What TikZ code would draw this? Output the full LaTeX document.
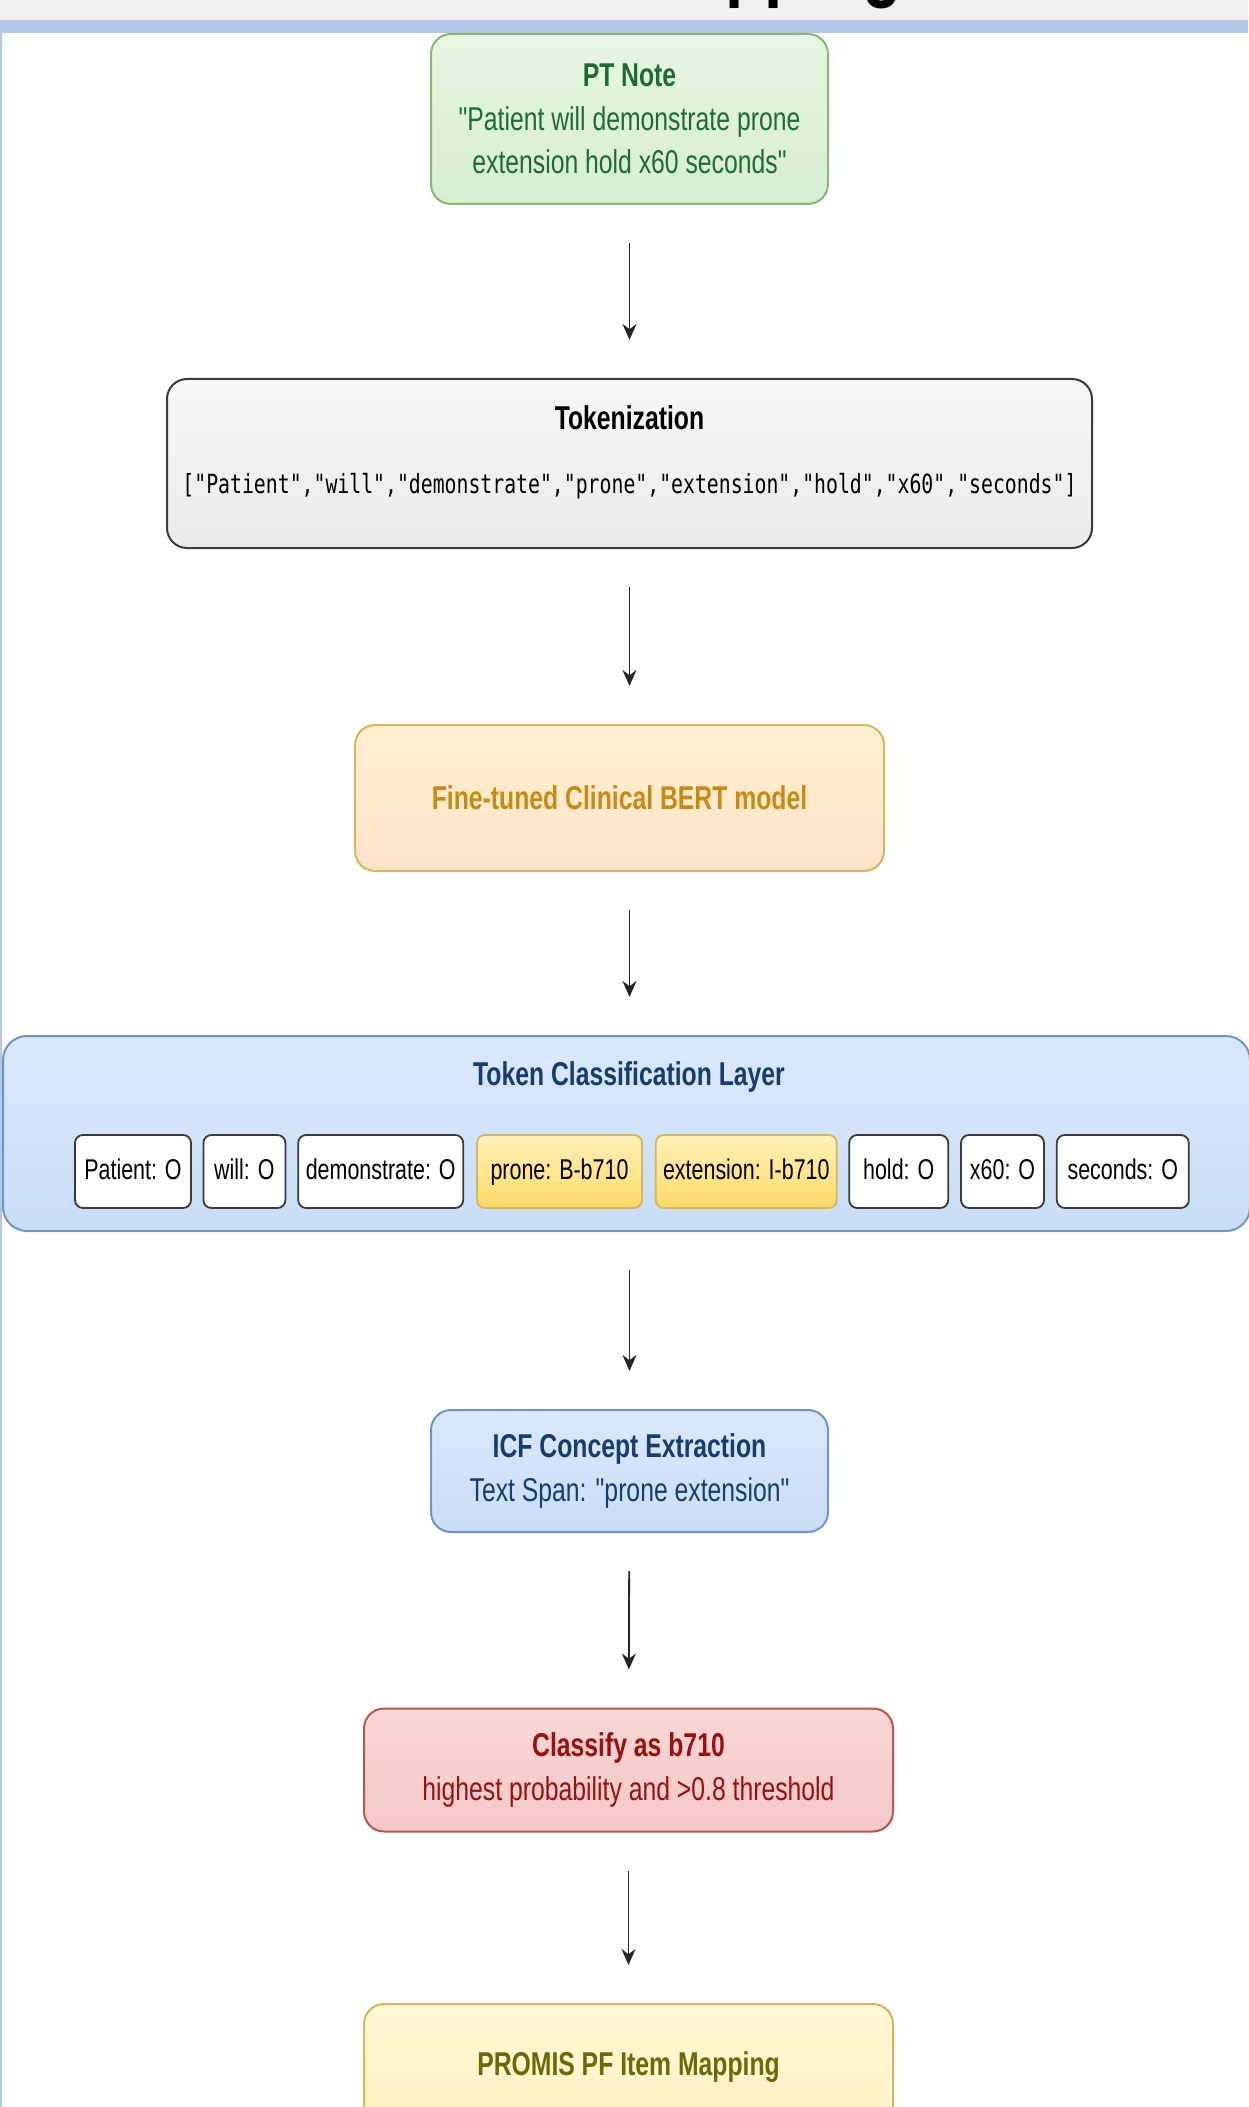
\documentclass[tikz,border=0pt]{standalone}
\usepackage{fontspec}
\setmainfont{Liberation Sans}[FakeStretch=0.75,Ligatures=TeXOff]
\setmonofont{DejaVu Sans Mono}[FakeStretch=0.75]
\usetikzlibrary{positioning,arrows.meta}

\definecolor{bandGray}{HTML}{F0F0F0}
\definecolor{bandBlue}{HTML}{B4C7E7}
\definecolor{noteTop}{HTML}{E6F7E2}
\definecolor{noteBot}{HTML}{D6EDD0}
\definecolor{noteLine}{HTML}{86B874}
\definecolor{noteText}{HTML}{1E6B35}
\definecolor{tokTop}{HTML}{F7F7F7}
\definecolor{tokBot}{HTML}{EAEAEA}
\definecolor{tokLine}{HTML}{3A3A3A}
\definecolor{bertTop}{HTML}{FFF0CE}
\definecolor{bertBot}{HTML}{FFE3C9}
\definecolor{bertLine}{HTML}{D6B656}
\definecolor{bertText}{HTML}{C88A12}
\definecolor{layerTop}{HTML}{DAE8FC}
\definecolor{layerBot}{HTML}{C9DDF7}
\definecolor{layerLine}{HTML}{7094C6}
\definecolor{layerText}{HTML}{163D6E}
\definecolor{hlTop}{HTML}{FFF1B8}
\definecolor{hlBot}{HTML}{FFD966}
\definecolor{clsTop}{HTML}{F9D7D5}
\definecolor{clsBot}{HTML}{F4C8C6}
\definecolor{clsLine}{HTML}{B85450}
\definecolor{clsText}{HTML}{9B0F10}
\definecolor{promTop}{HTML}{FFF8D4}
\definecolor{promBot}{HTML}{FFF2C2}
\definecolor{promText}{HTML}{6A6A0A}

\tikzset{
  flow/.style={-{Stealth[length=8pt,width=7pt]},line width=0.9pt,draw=black!85,
    shorten <=19pt,shorten >=19pt},
  stepbox/.style={rounded corners=10pt,line width=1pt,align=center,inner sep=0pt,
    font=\fontsize{16.5}{21.75}\selectfont},
  notebox/.style={stepbox,draw=noteLine,top color=noteTop,bottom color=noteBot,text=noteText},
  tokbox/.style={stepbox,draw=tokLine,top color=tokTop,bottom color=tokBot},
  bertbox/.style={stepbox,draw=bertLine,top color=bertTop,bottom color=bertBot,text=bertText},
  layerbox/.style={stepbox,draw=layerLine,top color=layerTop,bottom color=layerBot,text=layerText},
  clsbox/.style={stepbox,draw=clsLine,top color=clsTop,bottom color=clsBot,text=clsText},
  prombox/.style={stepbox,draw=bertLine,top color=promTop,bottom color=promBot,text=promText},
  tag/.style={draw=tokLine,fill=white,rounded corners=4pt,line width=0.9pt,inner xsep=3pt,
    text height=10.5pt,text depth=3pt,minimum height=36.5pt,font=\fontsize{14.3}{16}\selectfont},
  hltag/.style={tag,draw=bertLine,top color=hlTop,bottom color=hlBot}
}

\begin{document}
\begin{tikzpicture}[x=0.5pt,y=-0.5pt]
\useasboundingbox (0,0) rectangle (1248,2107);
% page header, cut off at the top
\fill[bandGray] (0,0) rectangle (1248,20);
\fill[bandBlue] (0,20) rectangle (1248,33);
\fill[bandBlue] (0,33) rectangle (2,2107);
\node[anchor=base west,inner sep=0pt,font=\bfseries\fontsize{43.5}{50}\selectfont] (ttl) at (634,-9) {Mapping};

% pipeline
\node[notebox,minimum width=198.5pt,minimum height=85pt] (note) at (629.5,119)
  {\textbf{PT Note}\\"Patient will demonstrate prone\\extension hold x60 seconds"};
\node[tokbox,minimum width=462.5pt,minimum height=84.5pt] (tok) at (629.5,463.5) {};
\node[font=\bfseries\fontsize{16.5}{20}\selectfont] (toktitle) at (629.5,418) {Tokenization};
\node[font=\ttfamily\fontsize{13.2}{16}\selectfont] (toklist) at (629.5,486)
  {["Patient","will","demonstrate","prone","extension","hold","x60","seconds"]};
\node[bertbox,minimum width=264.5pt,minimum height=73pt,font=\bfseries\fontsize{16.5}{20}\selectfont] (bert) at (619.5,798)
  {Fine-tuned Clinical BERT model};

% token classification layer
\node[layerbox,rounded corners=12pt,minimum width=623.5pt,minimum height=97.5pt] (tcl) at (626.5,1133.5) {};
\node[text=layerText,font=\bfseries\fontsize{16.5}{20}\selectfont] (tcltitle) at (629,1077) {Token Classification Layer};
\node[tag,minimum width=58pt] (t1) at (133,1171.5) {Patient: O};
\node[tag,minimum width=41pt,right=5.3pt of t1] (t2) {will: O};
\node[tag,minimum width=82.5pt,right=5.5pt of t2] (t3) {demonstrate: O};
\node[hltag,minimum width=82.5pt,right=6pt of t3] (t4) {prone: B-b710};
\node[hltag,minimum width=90.5pt,right=6pt of t4] (t5) {extension: I-b710};
\node[tag,minimum width=49.5pt,right=5.3pt of t5] (t6) {hold: O};
\node[tag,minimum width=41.5pt,right=5.5pt of t6] (t7) {x60: O};
\node[tag,minimum width=66pt,right=5.5pt of t7] (t8) {seconds: O};

\node[layerbox,minimum width=198.5pt,minimum height=61pt] (icf) at (629.5,1471)
  {\textbf{ICF Concept Extraction}\\Text Span: "prone extension"};
\node[clsbox,minimum width=264.5pt,minimum height=61.5pt] (cls) at (628.5,1770)
  {\textbf{Classify as b710}\\highest probability and >0.8 threshold};
\node[prombox,minimum width=264.5pt,minimum height=63pt,font=\bfseries\fontsize{16.5}{20}\selectfont] (prom) at (628.5,2067)
  {PROMIS PF Item Mapping};

% arrows
\draw[flow] (note) -- (tok);
\draw[flow] (tok.south) -- (tok.south |- bert.north);
\draw[flow] (bert.south -| tok.south) -- (tcl.north -| tok.south);
\draw[flow] (tcl.south -| tok.south) -- (icf);
\draw[flow] (icf) -- (cls);
\draw[flow] (cls) -- (prom);
\end{tikzpicture}
\end{document}
